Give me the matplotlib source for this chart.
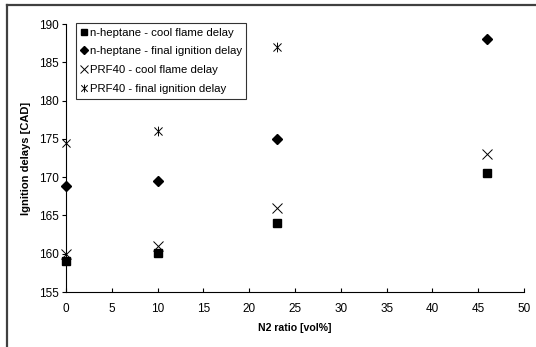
import numpy as np
import matplotlib.pyplot as plt
from matplotlib.path import Path
from matplotlib.lines import Line2D

plt.rcParams['font.family'] = ['Liberation Sans', 'DejaVu Sans']

n2_ratio = [0, 10, 23, 46]
hep_cool = [159.0, 160.1, 164.0, 170.5]
hep_final = [168.8, 169.5, 175.0, 188.0]
prf_cool = [160.0, 161.0, 166.0, 173.0]
prf40_ratio = [0, 10, 23]
prf_final = [174.5, 176.0, 187.0]

labels = ['n-heptane - cool flame delay', 'n-heptane - final ignition delay',
          'PRF40 - cool flame delay', 'PRF40 - final ignition delay']

# Excel style star: x plus vertical bar
star = Path([(-1, -1), (1, 1), (-1, 1), (1, -1), (0, -1.2), (0, 1.2)],
            [Path.MOVETO, Path.LINETO, Path.MOVETO, Path.LINETO, Path.MOVETO, Path.LINETO])

fig = plt.figure(figsize=(5.36, 3.47), dpi=100)
ax = fig.add_axes([66 / 536, 1 - 292 / 347, 458 / 536, 268 / 347])

ax.plot(n2_ratio, hep_cool, ls='none', marker='s', ms=6, color='black', label=labels[0], clip_on=False)
ax.plot(n2_ratio, hep_final, ls='none', marker='D', ms=5, color='black', label=labels[1], clip_on=False)
ax.plot(n2_ratio, prf_cool, ls='none', marker='x', ms=6.5, mew=0.7, color='black', label=labels[2], clip_on=False)
ax.plot(prf40_ratio, prf_final, ls='none', marker=star, ms=7, mew=0.7, color='black', label=labels[3], clip_on=False)

ax.set_xlim(0, 50)
ax.set_ylim(155, 190)
ax.set_xticks(np.arange(0, 51, 5))
ax.set_yticks(np.arange(155, 191, 5))
ax.spines['top'].set_visible(False)
ax.spines['right'].set_visible(False)
for s in ['left', 'bottom']:
    ax.spines[s].set_linewidth(0.8)
ax.tick_params(axis='x', direction='in', length=3, width=0.8, labelsize=8.5, pad=8)
ax.tick_params(axis='y', direction='out', length=3, width=0.8, labelsize=8.5, pad=2)

ax.set_xlabel('N2 ratio [vol%]', fontsize=7.6, fontweight='bold', labelpad=6)
ax.set_ylabel('Ignition delays [CAD]', fontsize=8, fontweight='bold', labelpad=6)

leg = ax.legend(loc='upper left', bbox_to_anchor=(76 / 536, 1 - 23 / 347),
                bbox_transform=fig.transFigure, fontsize=8.2, frameon=True,
                fancybox=False, handlelength=0.6, handletextpad=0.2, markerscale=0.8,
                borderpad=0.4, labelspacing=0.78, borderaxespad=0)
leg.get_frame().set_edgecolor('black')
leg.get_frame().set_linewidth(0.8)

# outer chart border (top and left only visible)
fig.add_artist(Line2D([7 / 536, 7 / 536], [0, 1 - 4.5 / 347], transform=fig.transFigure,
                      color='#404040', lw=1.6))
fig.add_artist(Line2D([7 / 536, 1], [1 - 4.5 / 347, 1 - 4.5 / 347], transform=fig.transFigure,
                      color='#404040', lw=1.6))

fig.savefig('out.png', dpi=100)
